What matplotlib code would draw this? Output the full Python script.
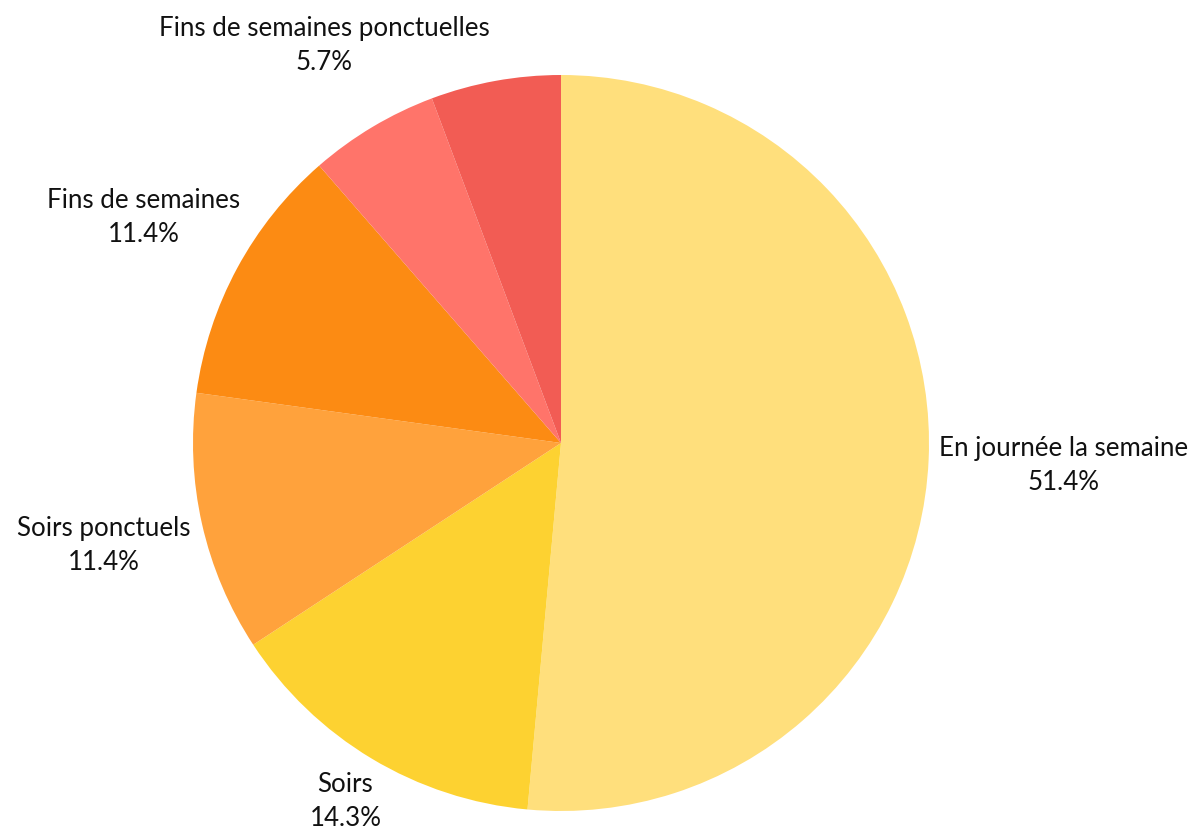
import numpy as np
import matplotlib
matplotlib.use("Agg")
import matplotlib.pyplot as plt

categories = ["En journée la semaine", "Soirs", "Soirs ponctuels", "Fins de semaines",
              "Fins de semaines ponctuelles", "Fins de semaines ponctuelles"]
values = [51.4, 14.3, 11.4, 11.4, 5.7, 5.7]
colors = ["#FFDF7C", "#FDD231", "#FFA23C", "#FC8B13", "#FF746A", "#F25C54"]

W, H = 1198, 838
CX, CY, R = 561, 443, 368  # pixel layout of the pie

plt.rcParams['font.family'] = ['Lato', 'DejaVu Sans']
fig = plt.figure(figsize=(W / 100, H / 100), dpi=100)
ax = fig.add_axes([0, 0, 1, 1])
wedges, _ = ax.pie(values, colors=colors, startangle=90, counterclock=False,
                   radius=1, wedgeprops=dict(linewidth=0, edgecolor='none'))
ax.set_aspect('auto')
ax.set_xlim(-CX / R, (W - CX) / R)
ax.set_ylim(-(H - CY) / R, CY / R)
ax.axis('off')

fig.canvas.draw()
renderer = fig.canvas.get_renderer()

R0 = 1.03 * R  # pixel radius the nearest corner of each label box touches
placed = []
for w, cat, v in zip(wedges, categories, values):
    ang = np.deg2rad((w.theta1 + w.theta2) / 2)
    ux, uy = np.cos(ang), np.sin(ang)
    t = ax.text(0, 0, f"{cat}\n{v:.1f}%", ha='center', va='center',
                multialignment='center', fontsize=18.6, color='#111111',
                linespacing=1.45)
    bb = t.get_window_extent(renderer)
    hw, hh = bb.width / 2 - 1, bb.height / 2 - 4

    def nearest(d):
        cx, cy = d * ux, d * uy
        nx = 0.0 if abs(cx) <= hw else abs(cx) - hw
        ny = 0.0 if abs(cy) <= hh else abs(cy) - hh
        return np.hypot(nx, ny)

    lo, hi = 0.0, 2000.0
    for _ in range(60):
        mid = (lo + hi) / 2
        if nearest(mid) < R0:
            lo = mid
        else:
            hi = mid
    d = hi
    px, py = d * ux, d * uy
    box = (px - hw, py - hh, px + hw, py + hh)
    overlap = any(not (box[2] < b[0] or box[0] > b[2] or box[3] < b[1] or box[1] > b[3])
                  for b in placed)
    if overlap:
        t.remove()
        continue
    placed.append(box)
    t.set_position((px / R, py / R))

fig.savefig("out.png", dpi=100)
